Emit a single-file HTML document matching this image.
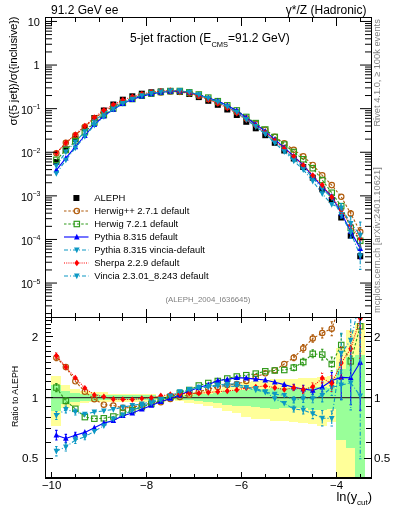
<!DOCTYPE html><html><head><meta charset="utf-8"><style>html,body{margin:0;padding:0;background:#fff;overflow:hidden}svg{display:block;will-change:transform}text{font-family:"Liberation Sans",sans-serif}</style></head><body>
<svg width="393" height="512" viewBox="0 0 393 512">
<defs><clipPath id="cu"><rect x="46" y="18" width="325" height="299"/></clipPath><clipPath id="cl"><rect x="46" y="318" width="325" height="159"/></clipPath></defs>
<g clip-path="url(#cl)" shape-rendering="crispEdges">
<rect x="51.26" y="375.70" width="9.50" height="50.30" fill="#ffff99"/>
<rect x="60.76" y="385.00" width="9.50" height="23.20" fill="#ffff99"/>
<rect x="70.25" y="389.10" width="9.50" height="17.20" fill="#ffff99"/>
<rect x="79.75" y="391.00" width="9.50" height="12.00" fill="#ffff99"/>
<rect x="89.24" y="391.60" width="9.50" height="10.80" fill="#ffff99"/>
<rect x="98.74" y="392.00" width="9.50" height="10.00" fill="#ffff99"/>
<rect x="108.24" y="394.06" width="9.50" height="7.44" fill="#ffff99"/>
<rect x="117.73" y="394.06" width="9.50" height="7.44" fill="#ffff99"/>
<rect x="127.23" y="394.06" width="9.50" height="7.44" fill="#ffff99"/>
<rect x="136.72" y="394.06" width="9.50" height="7.44" fill="#ffff99"/>
<rect x="146.22" y="394.06" width="9.50" height="7.44" fill="#ffff99"/>
<rect x="155.72" y="395.94" width="9.50" height="3.56" fill="#ffff99"/>
<rect x="165.21" y="395.27" width="9.50" height="4.93" fill="#ffff99"/>
<rect x="174.71" y="394.33" width="9.50" height="6.87" fill="#ffff99"/>
<rect x="184.20" y="392.97" width="9.50" height="9.73" fill="#ffff99"/>
<rect x="193.70" y="391.82" width="9.50" height="12.18" fill="#ffff99"/>
<rect x="203.20" y="390.54" width="9.50" height="14.96" fill="#ffff99"/>
<rect x="212.69" y="388.64" width="9.50" height="19.16" fill="#ffff99"/>
<rect x="222.19" y="386.53" width="9.50" height="23.97" fill="#ffff99"/>
<rect x="231.68" y="384.53" width="9.50" height="28.67" fill="#ffff99"/>
<rect x="241.18" y="382.09" width="9.50" height="34.61" fill="#ffff99"/>
<rect x="250.68" y="380.90" width="9.50" height="37.60" fill="#ffff99"/>
<rect x="260.17" y="380.32" width="9.50" height="39.08" fill="#ffff99"/>
<rect x="269.67" y="379.31" width="9.50" height="41.69" fill="#ffff99"/>
<rect x="279.16" y="379.31" width="9.50" height="41.69" fill="#ffff99"/>
<rect x="288.66" y="379.00" width="9.50" height="42.50" fill="#ffff99"/>
<rect x="298.16" y="378.39" width="9.50" height="44.11" fill="#ffff99"/>
<rect x="307.65" y="377.79" width="9.50" height="45.71" fill="#ffff99"/>
<rect x="317.15" y="376.62" width="9.50" height="48.88" fill="#ffff99"/>
<rect x="326.64" y="375.70" width="9.50" height="45.80" fill="#ffff99"/>
<rect x="336.14" y="348.40" width="9.50" height="131.60" fill="#ffff99"/>
<rect x="345.64" y="330.30" width="9.50" height="149.70" fill="#ffff99"/>
<rect x="355.13" y="323.00" width="9.50" height="157.00" fill="#ffff99"/>
<rect x="51.26" y="385.30" width="9.50" height="25.40" fill="#99ff99"/>
<rect x="60.76" y="391.00" width="9.50" height="12.70" fill="#99ff99"/>
<rect x="70.25" y="392.90" width="9.50" height="8.90" fill="#99ff99"/>
<rect x="79.75" y="393.50" width="9.50" height="7.00" fill="#99ff99"/>
<rect x="89.24" y="394.20" width="9.50" height="6.30" fill="#99ff99"/>
<rect x="98.74" y="394.50" width="9.50" height="5.80" fill="#99ff99"/>
<rect x="108.24" y="395.46" width="9.50" height="4.54" fill="#99ff99"/>
<rect x="117.73" y="395.46" width="9.50" height="4.54" fill="#99ff99"/>
<rect x="127.23" y="395.46" width="9.50" height="4.54" fill="#99ff99"/>
<rect x="136.72" y="395.46" width="9.50" height="4.54" fill="#99ff99"/>
<rect x="146.22" y="395.46" width="9.50" height="4.54" fill="#99ff99"/>
<rect x="155.72" y="396.52" width="9.50" height="2.38" fill="#99ff99"/>
<rect x="165.21" y="396.52" width="9.50" height="2.38" fill="#99ff99"/>
<rect x="174.71" y="395.94" width="9.50" height="3.56" fill="#99ff99"/>
<rect x="184.20" y="395.27" width="9.50" height="4.93" fill="#99ff99"/>
<rect x="193.70" y="394.33" width="9.50" height="6.87" fill="#99ff99"/>
<rect x="203.20" y="393.78" width="9.50" height="8.02" fill="#99ff99"/>
<rect x="212.69" y="392.52" width="9.50" height="10.68" fill="#99ff99"/>
<rect x="222.19" y="391.39" width="9.50" height="13.11" fill="#99ff99"/>
<rect x="231.68" y="390.12" width="9.50" height="15.88" fill="#99ff99"/>
<rect x="241.18" y="390.12" width="9.50" height="15.88" fill="#99ff99"/>
<rect x="250.68" y="389.37" width="9.50" height="17.53" fill="#99ff99"/>
<rect x="260.17" y="388.64" width="9.50" height="19.16" fill="#99ff99"/>
<rect x="269.67" y="388.09" width="9.50" height="20.41" fill="#99ff99"/>
<rect x="279.16" y="388.32" width="9.50" height="19.88" fill="#99ff99"/>
<rect x="288.66" y="388.32" width="9.50" height="19.88" fill="#99ff99"/>
<rect x="298.16" y="388.32" width="9.50" height="19.88" fill="#99ff99"/>
<rect x="307.65" y="387.30" width="9.50" height="22.20" fill="#99ff99"/>
<rect x="317.15" y="386.91" width="9.50" height="23.09" fill="#99ff99"/>
<rect x="326.64" y="387.77" width="9.50" height="21.13" fill="#99ff99"/>
<rect x="336.14" y="369.00" width="9.50" height="70.70" fill="#99ff99"/>
<rect x="345.64" y="357.00" width="9.50" height="90.60" fill="#99ff99"/>
<rect x="355.13" y="355.30" width="9.50" height="124.70" fill="#99ff99"/>
</g>
<line x1="46" y1="397.7" x2="371" y2="397.7" stroke="#333" stroke-width="1.3"/>
<g clip-path="url(#cl)">
<path d="M56.36,354.70V360.70M55.16,354.70H57.56M55.16,360.70H57.56M293.76,354.70V360.70M292.56,354.70H294.96M292.56,360.70H294.96M303.25,344.50V352.10M302.05,344.50H304.45M302.05,352.10H304.45M312.75,334.70V342.30M311.55,334.70H313.95M311.55,342.30H313.95M322.25,328.00V338.00M321.05,328.00H323.45M321.05,338.00H323.45M331.74,321.70V335.70M330.54,321.70H332.94M330.54,335.70H332.94M341.24,292.00V312.00M340.04,292.00H342.44M340.04,312.00H342.44M350.73,281.00V309.00M349.53,281.00H351.93M349.53,309.00H351.93M360.23,265.00V305.00M359.03,265.00H361.43M359.03,305.00H361.43" fill="none" stroke="#b05a0a" stroke-width="1.1" stroke-dasharray="2.5,1.8"/>
<path d="M56.36,357.70L65.85,367.10L75.35,381.30L84.85,391.70L94.34,399.20L103.84,404.70L113.33,405.50L122.83,407.90L132.33,407.50L141.82,405.00L151.32,403.00L160.81,402.20L170.31,399.00L179.81,397.00L189.30,394.80L198.80,392.00L208.29,389.00L217.79,387.00L227.29,385.00L236.78,384.00L246.28,381.00L255.77,377.00L265.27,373.30L274.77,370.20L284.26,364.00L293.76,357.70L303.25,348.30L312.75,338.50L322.25,333.00L331.74,328.70L341.24,302.00L350.73,295.00L360.23,285.00" fill="none" stroke="#b05a0a" stroke-width="1.1" stroke-dasharray="2.5,1.8"/>
<circle cx="56.36" cy="357.70" r="2.7" fill="none" stroke="#b05a0a" stroke-width="1.15"/>
<circle cx="65.85" cy="367.10" r="2.7" fill="none" stroke="#b05a0a" stroke-width="1.15"/>
<circle cx="75.35" cy="381.30" r="2.7" fill="none" stroke="#b05a0a" stroke-width="1.15"/>
<circle cx="84.85" cy="391.70" r="2.7" fill="none" stroke="#b05a0a" stroke-width="1.15"/>
<circle cx="94.34" cy="399.20" r="2.7" fill="none" stroke="#b05a0a" stroke-width="1.15"/>
<circle cx="103.84" cy="404.70" r="2.7" fill="none" stroke="#b05a0a" stroke-width="1.15"/>
<circle cx="113.33" cy="405.50" r="2.7" fill="none" stroke="#b05a0a" stroke-width="1.15"/>
<circle cx="122.83" cy="407.90" r="2.7" fill="none" stroke="#b05a0a" stroke-width="1.15"/>
<circle cx="132.33" cy="407.50" r="2.7" fill="none" stroke="#b05a0a" stroke-width="1.15"/>
<circle cx="141.82" cy="405.00" r="2.7" fill="none" stroke="#b05a0a" stroke-width="1.15"/>
<circle cx="151.32" cy="403.00" r="2.7" fill="none" stroke="#b05a0a" stroke-width="1.15"/>
<circle cx="160.81" cy="402.20" r="2.7" fill="none" stroke="#b05a0a" stroke-width="1.15"/>
<circle cx="170.31" cy="399.00" r="2.7" fill="none" stroke="#b05a0a" stroke-width="1.15"/>
<circle cx="179.81" cy="397.00" r="2.7" fill="none" stroke="#b05a0a" stroke-width="1.15"/>
<circle cx="189.30" cy="394.80" r="2.7" fill="none" stroke="#b05a0a" stroke-width="1.15"/>
<circle cx="198.80" cy="392.00" r="2.7" fill="none" stroke="#b05a0a" stroke-width="1.15"/>
<circle cx="208.29" cy="389.00" r="2.7" fill="none" stroke="#b05a0a" stroke-width="1.15"/>
<circle cx="217.79" cy="387.00" r="2.7" fill="none" stroke="#b05a0a" stroke-width="1.15"/>
<circle cx="227.29" cy="385.00" r="2.7" fill="none" stroke="#b05a0a" stroke-width="1.15"/>
<circle cx="236.78" cy="384.00" r="2.7" fill="none" stroke="#b05a0a" stroke-width="1.15"/>
<circle cx="246.28" cy="381.00" r="2.7" fill="none" stroke="#b05a0a" stroke-width="1.15"/>
<circle cx="255.77" cy="377.00" r="2.7" fill="none" stroke="#b05a0a" stroke-width="1.15"/>
<circle cx="265.27" cy="373.30" r="2.7" fill="none" stroke="#b05a0a" stroke-width="1.15"/>
<circle cx="274.77" cy="370.20" r="2.7" fill="none" stroke="#b05a0a" stroke-width="1.15"/>
<circle cx="284.26" cy="364.00" r="2.7" fill="none" stroke="#b05a0a" stroke-width="1.15"/>
<circle cx="293.76" cy="357.70" r="2.7" fill="none" stroke="#b05a0a" stroke-width="1.15"/>
<circle cx="303.25" cy="348.30" r="2.7" fill="none" stroke="#b05a0a" stroke-width="1.15"/>
<circle cx="312.75" cy="338.50" r="2.7" fill="none" stroke="#b05a0a" stroke-width="1.15"/>
<circle cx="322.25" cy="333.00" r="2.7" fill="none" stroke="#b05a0a" stroke-width="1.15"/>
<circle cx="331.74" cy="328.70" r="2.7" fill="none" stroke="#b05a0a" stroke-width="1.15"/>
<circle cx="341.24" cy="302.00" r="2.7" fill="none" stroke="#b05a0a" stroke-width="1.15"/>
<circle cx="350.73" cy="295.00" r="2.7" fill="none" stroke="#b05a0a" stroke-width="1.15"/>
<circle cx="360.23" cy="285.00" r="2.7" fill="none" stroke="#b05a0a" stroke-width="1.15"/>
</g>
<g clip-path="url(#cl)">
<path d="M56.36,383.60V391.60M55.16,383.60H57.56M55.16,391.60H57.56M65.85,397.90V403.90M64.65,397.90H67.05M64.65,403.90H67.05M293.76,364.60V370.60M292.56,364.60H294.96M292.56,370.60H294.96M303.25,358.20V365.80M302.05,358.20H304.45M302.05,365.80H304.45M312.75,349.80V357.80M311.55,349.80H313.95M311.55,357.80H313.95M322.25,349.20V360.00M321.05,349.20H323.45M321.05,360.00H323.45M331.74,357.00V371.00M330.54,357.00H332.94M330.54,371.00H332.94M341.24,334.00V356.00M340.04,334.00H342.44M340.04,356.00H342.44M350.73,346.40V376.40M349.53,346.40H351.93M349.53,376.40H351.93M360.23,301.30V351.30M359.03,301.30H361.43M359.03,351.30H361.43" fill="none" stroke="#2f9a1a" stroke-width="1.1" stroke-dasharray="2.5,1.8"/>
<path d="M56.36,387.60L65.85,400.90L75.35,408.80L84.85,417.10L94.34,418.70L103.84,418.30L113.33,416.50L122.83,412.60L132.33,410.30L141.82,407.10L151.32,403.90L160.81,400.00L170.31,397.00L179.81,393.00L189.30,390.00L198.80,385.50L208.29,383.00L217.79,381.00L227.29,378.50L236.78,376.50L246.28,375.20L255.77,373.60L265.27,371.30L274.77,370.50L284.26,370.00L293.76,367.60L303.25,362.00L312.75,353.80L322.25,354.60L331.74,364.00L341.24,345.00L350.73,361.40L360.23,326.30" fill="none" stroke="#2f9a1a" stroke-width="1.1" stroke-dasharray="2.5,1.8"/>
<rect x="53.66" y="384.90" width="5.4" height="5.4" fill="none" stroke="#2f9a1a" stroke-width="1.15"/>
<rect x="63.15" y="398.20" width="5.4" height="5.4" fill="none" stroke="#2f9a1a" stroke-width="1.15"/>
<rect x="72.65" y="406.10" width="5.4" height="5.4" fill="none" stroke="#2f9a1a" stroke-width="1.15"/>
<rect x="82.15" y="414.40" width="5.4" height="5.4" fill="none" stroke="#2f9a1a" stroke-width="1.15"/>
<rect x="91.64" y="416.00" width="5.4" height="5.4" fill="none" stroke="#2f9a1a" stroke-width="1.15"/>
<rect x="101.14" y="415.60" width="5.4" height="5.4" fill="none" stroke="#2f9a1a" stroke-width="1.15"/>
<rect x="110.63" y="413.80" width="5.4" height="5.4" fill="none" stroke="#2f9a1a" stroke-width="1.15"/>
<rect x="120.13" y="409.90" width="5.4" height="5.4" fill="none" stroke="#2f9a1a" stroke-width="1.15"/>
<rect x="129.63" y="407.60" width="5.4" height="5.4" fill="none" stroke="#2f9a1a" stroke-width="1.15"/>
<rect x="139.12" y="404.40" width="5.4" height="5.4" fill="none" stroke="#2f9a1a" stroke-width="1.15"/>
<rect x="148.62" y="401.20" width="5.4" height="5.4" fill="none" stroke="#2f9a1a" stroke-width="1.15"/>
<rect x="158.11" y="397.30" width="5.4" height="5.4" fill="none" stroke="#2f9a1a" stroke-width="1.15"/>
<rect x="167.61" y="394.30" width="5.4" height="5.4" fill="none" stroke="#2f9a1a" stroke-width="1.15"/>
<rect x="177.11" y="390.30" width="5.4" height="5.4" fill="none" stroke="#2f9a1a" stroke-width="1.15"/>
<rect x="186.60" y="387.30" width="5.4" height="5.4" fill="none" stroke="#2f9a1a" stroke-width="1.15"/>
<rect x="196.10" y="382.80" width="5.4" height="5.4" fill="none" stroke="#2f9a1a" stroke-width="1.15"/>
<rect x="205.59" y="380.30" width="5.4" height="5.4" fill="none" stroke="#2f9a1a" stroke-width="1.15"/>
<rect x="215.09" y="378.30" width="5.4" height="5.4" fill="none" stroke="#2f9a1a" stroke-width="1.15"/>
<rect x="224.59" y="375.80" width="5.4" height="5.4" fill="none" stroke="#2f9a1a" stroke-width="1.15"/>
<rect x="234.08" y="373.80" width="5.4" height="5.4" fill="none" stroke="#2f9a1a" stroke-width="1.15"/>
<rect x="243.58" y="372.50" width="5.4" height="5.4" fill="none" stroke="#2f9a1a" stroke-width="1.15"/>
<rect x="253.07" y="370.90" width="5.4" height="5.4" fill="none" stroke="#2f9a1a" stroke-width="1.15"/>
<rect x="262.57" y="368.60" width="5.4" height="5.4" fill="none" stroke="#2f9a1a" stroke-width="1.15"/>
<rect x="272.07" y="367.80" width="5.4" height="5.4" fill="none" stroke="#2f9a1a" stroke-width="1.15"/>
<rect x="281.56" y="367.30" width="5.4" height="5.4" fill="none" stroke="#2f9a1a" stroke-width="1.15"/>
<rect x="291.06" y="364.90" width="5.4" height="5.4" fill="none" stroke="#2f9a1a" stroke-width="1.15"/>
<rect x="300.55" y="359.30" width="5.4" height="5.4" fill="none" stroke="#2f9a1a" stroke-width="1.15"/>
<rect x="310.05" y="351.10" width="5.4" height="5.4" fill="none" stroke="#2f9a1a" stroke-width="1.15"/>
<rect x="319.55" y="351.90" width="5.4" height="5.4" fill="none" stroke="#2f9a1a" stroke-width="1.15"/>
<rect x="329.04" y="361.30" width="5.4" height="5.4" fill="none" stroke="#2f9a1a" stroke-width="1.15"/>
<rect x="338.54" y="342.30" width="5.4" height="5.4" fill="none" stroke="#2f9a1a" stroke-width="1.15"/>
<rect x="348.03" y="358.70" width="5.4" height="5.4" fill="none" stroke="#2f9a1a" stroke-width="1.15"/>
<rect x="357.53" y="323.60" width="5.4" height="5.4" fill="none" stroke="#2f9a1a" stroke-width="1.15"/>
</g>
<g clip-path="url(#cl)">
<path d="M56.36,430.40V440.00M55.16,430.40H57.56M55.16,440.00H57.56M65.85,434.40V442.40M64.65,434.40H67.05M64.65,442.40H67.05M75.35,432.20V438.20M74.15,432.20H76.55M74.15,438.20H76.55M293.76,384.20V390.20M292.56,384.20H294.96M292.56,390.20H294.96M303.25,385.20V392.80M302.05,385.20H304.45M302.05,392.80H304.45M312.75,386.40V394.40M311.55,386.40H313.95M311.55,394.40H313.95M322.25,382.00V392.00M321.05,382.00H323.45M321.05,392.00H323.45M331.74,372.50V388.50M330.54,372.50H332.94M330.54,388.50H332.94M341.24,355.40V399.40M340.04,355.40H342.44M340.04,399.40H342.44M350.73,350.70V404.70M349.53,350.70H351.93M349.53,404.70H351.93M360.23,314.30V410.30M359.03,314.30H361.43M359.03,410.30H361.43" fill="none" stroke="#0000ff" stroke-width="1.1"/>
<path d="M56.36,435.20L65.85,438.40L75.35,435.20L84.85,432.40L94.34,427.80L103.84,423.10L113.33,420.50L122.83,415.70L132.33,413.00L141.82,409.20L151.32,405.40L160.81,401.50L170.31,398.40L179.81,395.00L189.30,391.00L198.80,387.50L208.29,384.80L217.79,380.50L227.29,379.50L236.78,377.60L246.28,378.10L255.77,379.10L265.27,380.00L274.77,382.20L284.26,384.60L293.76,387.20L303.25,389.00L312.75,390.40L322.25,387.00L331.74,380.50L341.24,377.40L350.73,377.70L360.23,362.30" fill="none" stroke="#0000ff" stroke-width="1.1"/>
<path d="M53.56,437.60L59.16,437.60L56.36,431.90Z" fill="#0000ff"/>
<path d="M63.05,440.80L68.65,440.80L65.85,435.10Z" fill="#0000ff"/>
<path d="M72.55,437.60L78.15,437.60L75.35,431.90Z" fill="#0000ff"/>
<path d="M82.05,434.80L87.65,434.80L84.85,429.10Z" fill="#0000ff"/>
<path d="M91.54,430.20L97.14,430.20L94.34,424.50Z" fill="#0000ff"/>
<path d="M101.04,425.50L106.64,425.50L103.84,419.80Z" fill="#0000ff"/>
<path d="M110.53,422.90L116.13,422.90L113.33,417.20Z" fill="#0000ff"/>
<path d="M120.03,418.10L125.63,418.10L122.83,412.40Z" fill="#0000ff"/>
<path d="M129.53,415.40L135.13,415.40L132.33,409.70Z" fill="#0000ff"/>
<path d="M139.02,411.60L144.62,411.60L141.82,405.90Z" fill="#0000ff"/>
<path d="M148.52,407.80L154.12,407.80L151.32,402.10Z" fill="#0000ff"/>
<path d="M158.01,403.90L163.61,403.90L160.81,398.20Z" fill="#0000ff"/>
<path d="M167.51,400.80L173.11,400.80L170.31,395.10Z" fill="#0000ff"/>
<path d="M177.01,397.40L182.61,397.40L179.81,391.70Z" fill="#0000ff"/>
<path d="M186.50,393.40L192.10,393.40L189.30,387.70Z" fill="#0000ff"/>
<path d="M196.00,389.90L201.60,389.90L198.80,384.20Z" fill="#0000ff"/>
<path d="M205.49,387.20L211.09,387.20L208.29,381.50Z" fill="#0000ff"/>
<path d="M214.99,382.90L220.59,382.90L217.79,377.20Z" fill="#0000ff"/>
<path d="M224.49,381.90L230.09,381.90L227.29,376.20Z" fill="#0000ff"/>
<path d="M233.98,380.00L239.58,380.00L236.78,374.30Z" fill="#0000ff"/>
<path d="M243.48,380.50L249.08,380.50L246.28,374.80Z" fill="#0000ff"/>
<path d="M252.97,381.50L258.57,381.50L255.77,375.80Z" fill="#0000ff"/>
<path d="M262.47,382.40L268.07,382.40L265.27,376.70Z" fill="#0000ff"/>
<path d="M271.97,384.60L277.57,384.60L274.77,378.90Z" fill="#0000ff"/>
<path d="M281.46,387.00L287.06,387.00L284.26,381.30Z" fill="#0000ff"/>
<path d="M290.96,389.60L296.56,389.60L293.76,383.90Z" fill="#0000ff"/>
<path d="M300.45,391.40L306.05,391.40L303.25,385.70Z" fill="#0000ff"/>
<path d="M309.95,392.80L315.55,392.80L312.75,387.10Z" fill="#0000ff"/>
<path d="M319.45,389.40L325.05,389.40L322.25,383.70Z" fill="#0000ff"/>
<path d="M328.94,382.90L334.54,382.90L331.74,377.20Z" fill="#0000ff"/>
<path d="M338.44,379.80L344.04,379.80L341.24,374.10Z" fill="#0000ff"/>
<path d="M347.93,380.10L353.53,380.10L350.73,374.40Z" fill="#0000ff"/>
<path d="M357.43,364.70L363.03,364.70L360.23,359.00Z" fill="#0000ff"/>
</g>
<g clip-path="url(#cl)">
<path d="M56.36,411.50V419.50M55.16,411.50H57.56M55.16,419.50H57.56M65.85,406.00V413.00M64.65,406.00H67.05M64.65,413.00H67.05M75.35,409.00V415.00M74.15,409.00H76.55M74.15,415.00H76.55M293.76,396.90V402.90M292.56,396.90H294.96M292.56,402.90H294.96M303.25,394.90V402.50M302.05,394.90H304.45M302.05,402.50H304.45M312.75,394.70V402.70M311.55,394.70H313.95M311.55,402.70H313.95M322.25,388.70V401.90M321.05,388.70H323.45M321.05,401.90H323.45M331.74,379.50V395.50M330.54,379.50H332.94M330.54,395.50H332.94M341.24,370.00V400.00M340.04,370.00H342.44M340.04,400.00H342.44M350.73,355.90V409.90M349.53,355.90H351.93M349.53,409.90H351.93M360.23,332.80V458.80M359.03,332.80H361.43M359.03,458.80H361.43" fill="none" stroke="#0c98c4" stroke-width="1.1" stroke-dasharray="4,2,1,2"/>
<path d="M56.36,415.50L65.85,409.50L75.35,412.00L84.85,414.20L94.34,412.00L103.84,410.80L113.33,409.40L122.83,407.10L132.33,405.40L141.82,404.00L151.32,401.50L160.81,399.60L170.31,396.00L179.81,392.50L189.30,390.00L198.80,388.00L208.29,387.00L217.79,386.00L227.29,386.00L236.78,386.50L246.28,388.00L255.77,390.00L265.27,392.00L274.77,394.20L284.26,395.30L293.76,399.90L303.25,398.70L312.75,398.70L322.25,395.30L331.74,387.50L341.24,385.00L350.73,382.90L360.23,395.80" fill="none" stroke="#0c98c4" stroke-width="1.1" stroke-dasharray="4,2,1,2"/>
<path d="M53.56,413.10L59.16,413.10L56.36,418.80Z" fill="#0c98c4"/>
<path d="M63.05,407.10L68.65,407.10L65.85,412.80Z" fill="#0c98c4"/>
<path d="M72.55,409.60L78.15,409.60L75.35,415.30Z" fill="#0c98c4"/>
<path d="M82.05,411.80L87.65,411.80L84.85,417.50Z" fill="#0c98c4"/>
<path d="M91.54,409.60L97.14,409.60L94.34,415.30Z" fill="#0c98c4"/>
<path d="M101.04,408.40L106.64,408.40L103.84,414.10Z" fill="#0c98c4"/>
<path d="M110.53,407.00L116.13,407.00L113.33,412.70Z" fill="#0c98c4"/>
<path d="M120.03,404.70L125.63,404.70L122.83,410.40Z" fill="#0c98c4"/>
<path d="M129.53,403.00L135.13,403.00L132.33,408.70Z" fill="#0c98c4"/>
<path d="M139.02,401.60L144.62,401.60L141.82,407.30Z" fill="#0c98c4"/>
<path d="M148.52,399.10L154.12,399.10L151.32,404.80Z" fill="#0c98c4"/>
<path d="M158.01,397.20L163.61,397.20L160.81,402.90Z" fill="#0c98c4"/>
<path d="M167.51,393.60L173.11,393.60L170.31,399.30Z" fill="#0c98c4"/>
<path d="M177.01,390.10L182.61,390.10L179.81,395.80Z" fill="#0c98c4"/>
<path d="M186.50,387.60L192.10,387.60L189.30,393.30Z" fill="#0c98c4"/>
<path d="M196.00,385.60L201.60,385.60L198.80,391.30Z" fill="#0c98c4"/>
<path d="M205.49,384.60L211.09,384.60L208.29,390.30Z" fill="#0c98c4"/>
<path d="M214.99,383.60L220.59,383.60L217.79,389.30Z" fill="#0c98c4"/>
<path d="M224.49,383.60L230.09,383.60L227.29,389.30Z" fill="#0c98c4"/>
<path d="M233.98,384.10L239.58,384.10L236.78,389.80Z" fill="#0c98c4"/>
<path d="M243.48,385.60L249.08,385.60L246.28,391.30Z" fill="#0c98c4"/>
<path d="M252.97,387.60L258.57,387.60L255.77,393.30Z" fill="#0c98c4"/>
<path d="M262.47,389.60L268.07,389.60L265.27,395.30Z" fill="#0c98c4"/>
<path d="M271.97,391.80L277.57,391.80L274.77,397.50Z" fill="#0c98c4"/>
<path d="M281.46,392.90L287.06,392.90L284.26,398.60Z" fill="#0c98c4"/>
<path d="M290.96,397.50L296.56,397.50L293.76,403.20Z" fill="#0c98c4"/>
<path d="M300.45,396.30L306.05,396.30L303.25,402.00Z" fill="#0c98c4"/>
<path d="M309.95,396.30L315.55,396.30L312.75,402.00Z" fill="#0c98c4"/>
<path d="M319.45,392.90L325.05,392.90L322.25,398.60Z" fill="#0c98c4"/>
<path d="M328.94,385.10L334.54,385.10L331.74,390.80Z" fill="#0c98c4"/>
<path d="M338.44,382.60L344.04,382.60L341.24,388.30Z" fill="#0c98c4"/>
<path d="M347.93,380.50L353.53,380.50L350.73,386.20Z" fill="#0c98c4"/>
<path d="M357.43,393.40L363.03,393.40L360.23,399.10Z" fill="#0c98c4"/>
</g>
<g clip-path="url(#cl)">
<path d="M56.36,352.80V358.80M55.16,352.80H57.56M55.16,358.80H57.56M293.76,384.70V390.70M292.56,384.70H294.96M292.56,390.70H294.96M303.25,385.80V393.40M302.05,385.80H304.45M302.05,393.40H304.45M312.75,382.70V390.70M311.55,382.70H313.95M311.55,390.70H313.95M322.25,373.10V383.10M321.05,373.10H323.45M321.05,383.10H323.45M331.74,375.50V391.50M330.54,375.50H332.94M330.54,391.50H332.94M341.24,347.00V379.00M340.04,347.00H342.44M340.04,379.00H342.44M350.73,331.70V365.70M349.53,331.70H351.93M349.53,365.70H351.93M360.23,278.40V358.40M359.03,278.40H361.43M359.03,358.40H361.43" fill="none" stroke="#ff0000" stroke-width="1.1" stroke-dasharray="1,1.2"/>
<path d="M56.36,355.80L65.85,367.10L75.35,377.90L84.85,388.10L94.34,394.90L103.84,396.80L113.33,399.20L122.83,399.40L132.33,399.60L141.82,398.40L151.32,397.70L160.81,395.80L170.31,394.50L179.81,394.00L189.30,393.20L198.80,393.20L208.29,392.50L217.79,391.70L227.29,391.00L236.78,389.90L246.28,387.90L255.77,387.00L265.27,386.00L274.77,387.70L284.26,389.60L293.76,387.70L303.25,389.60L312.75,386.70L322.25,378.10L331.74,383.50L341.24,363.00L350.73,348.70L360.23,318.40" fill="none" stroke="#ff0000" stroke-width="1.1" stroke-dasharray="1,1.2"/>
<path d="M56.36,352.60L58.86,355.80L56.36,359.00L53.86,355.80Z" fill="#ff0000"/>
<path d="M65.85,363.90L68.35,367.10L65.85,370.30L63.35,367.10Z" fill="#ff0000"/>
<path d="M75.35,374.70L77.85,377.90L75.35,381.10L72.85,377.90Z" fill="#ff0000"/>
<path d="M84.85,384.90L87.35,388.10L84.85,391.30L82.35,388.10Z" fill="#ff0000"/>
<path d="M94.34,391.70L96.84,394.90L94.34,398.10L91.84,394.90Z" fill="#ff0000"/>
<path d="M103.84,393.60L106.34,396.80L103.84,400.00L101.34,396.80Z" fill="#ff0000"/>
<path d="M113.33,396.00L115.83,399.20L113.33,402.40L110.83,399.20Z" fill="#ff0000"/>
<path d="M122.83,396.20L125.33,399.40L122.83,402.60L120.33,399.40Z" fill="#ff0000"/>
<path d="M132.33,396.40L134.83,399.60L132.33,402.80L129.83,399.60Z" fill="#ff0000"/>
<path d="M141.82,395.20L144.32,398.40L141.82,401.60L139.32,398.40Z" fill="#ff0000"/>
<path d="M151.32,394.50L153.82,397.70L151.32,400.90L148.82,397.70Z" fill="#ff0000"/>
<path d="M160.81,392.60L163.31,395.80L160.81,399.00L158.31,395.80Z" fill="#ff0000"/>
<path d="M170.31,391.30L172.81,394.50L170.31,397.70L167.81,394.50Z" fill="#ff0000"/>
<path d="M179.81,390.80L182.31,394.00L179.81,397.20L177.31,394.00Z" fill="#ff0000"/>
<path d="M189.30,390.00L191.80,393.20L189.30,396.40L186.80,393.20Z" fill="#ff0000"/>
<path d="M198.80,390.00L201.30,393.20L198.80,396.40L196.30,393.20Z" fill="#ff0000"/>
<path d="M208.29,389.30L210.79,392.50L208.29,395.70L205.79,392.50Z" fill="#ff0000"/>
<path d="M217.79,388.50L220.29,391.70L217.79,394.90L215.29,391.70Z" fill="#ff0000"/>
<path d="M227.29,387.80L229.79,391.00L227.29,394.20L224.79,391.00Z" fill="#ff0000"/>
<path d="M236.78,386.70L239.28,389.90L236.78,393.10L234.28,389.90Z" fill="#ff0000"/>
<path d="M246.28,384.70L248.78,387.90L246.28,391.10L243.78,387.90Z" fill="#ff0000"/>
<path d="M255.77,383.80L258.27,387.00L255.77,390.20L253.27,387.00Z" fill="#ff0000"/>
<path d="M265.27,382.80L267.77,386.00L265.27,389.20L262.77,386.00Z" fill="#ff0000"/>
<path d="M274.77,384.50L277.27,387.70L274.77,390.90L272.27,387.70Z" fill="#ff0000"/>
<path d="M284.26,386.40L286.76,389.60L284.26,392.80L281.76,389.60Z" fill="#ff0000"/>
<path d="M293.76,384.50L296.26,387.70L293.76,390.90L291.26,387.70Z" fill="#ff0000"/>
<path d="M303.25,386.40L305.75,389.60L303.25,392.80L300.75,389.60Z" fill="#ff0000"/>
<path d="M312.75,383.50L315.25,386.70L312.75,389.90L310.25,386.70Z" fill="#ff0000"/>
<path d="M322.25,374.90L324.75,378.10L322.25,381.30L319.75,378.10Z" fill="#ff0000"/>
<path d="M331.74,380.30L334.24,383.50L331.74,386.70L329.24,383.50Z" fill="#ff0000"/>
<path d="M341.24,359.80L343.74,363.00L341.24,366.20L338.74,363.00Z" fill="#ff0000"/>
<path d="M350.73,345.50L353.23,348.70L350.73,351.90L348.23,348.70Z" fill="#ff0000"/>
<path d="M360.23,315.20L362.73,318.40L360.23,321.60L357.73,318.40Z" fill="#ff0000"/>
</g>
<g clip-path="url(#cl)">
<path d="M56.36,446.50V455.90M55.16,446.50H57.56M55.16,455.90H57.56M65.85,443.00V451.00M64.65,443.00H67.05M64.65,451.00H67.05M75.35,436.50V443.50M74.15,436.50H76.55M74.15,443.50H76.55M84.85,433.80V439.80M83.65,433.80H86.05M83.65,439.80H86.05M293.76,406.00V412.00M292.56,406.00H294.96M292.56,412.00H294.96M303.25,406.40V414.00M302.05,406.40H304.45M302.05,414.00H304.45M312.75,408.60V418.60M311.55,408.60H313.95M311.55,418.60H313.95M322.25,410.50V425.90M321.05,410.50H323.45M321.05,425.90H323.45M331.74,411.00V426.00M330.54,411.00H332.94M330.54,426.00H332.94M341.24,333.20V373.20M340.04,333.20H342.44M340.04,373.20H342.44M350.73,310.20V370.20M349.53,310.20H351.93M349.53,370.20H351.93M360.23,240.00V360.00M359.03,240.00H361.43M359.03,360.00H361.43" fill="none" stroke="#0c98c4" stroke-width="1.1" stroke-dasharray="4,2,1,2"/>
<path d="M56.36,451.20L65.85,447.00L75.35,440.00L84.85,436.80L94.34,431.30L103.84,425.80L113.33,418.90L122.83,415.00L132.33,410.40L141.82,406.30L151.32,403.10L160.81,399.20L170.31,395.80L179.81,391.70L189.30,389.40L198.80,387.10L208.29,386.40L217.79,384.80L227.29,384.10L236.78,384.00L246.28,387.30L255.77,388.40L265.27,391.90L274.77,398.70L284.26,403.30L293.76,409.00L303.25,410.20L312.75,413.60L322.25,418.20L331.74,418.50L341.24,353.20L350.73,340.20L360.23,300.00" fill="none" stroke="#0c98c4" stroke-width="1.1" stroke-dasharray="4,2,1,2"/>
<path d="M53.56,448.80L59.16,448.80L56.36,454.50Z" fill="#0c98c4"/>
<path d="M63.05,444.60L68.65,444.60L65.85,450.30Z" fill="#0c98c4"/>
<path d="M72.55,437.60L78.15,437.60L75.35,443.30Z" fill="#0c98c4"/>
<path d="M82.05,434.40L87.65,434.40L84.85,440.10Z" fill="#0c98c4"/>
<path d="M91.54,428.90L97.14,428.90L94.34,434.60Z" fill="#0c98c4"/>
<path d="M101.04,423.40L106.64,423.40L103.84,429.10Z" fill="#0c98c4"/>
<path d="M110.53,416.50L116.13,416.50L113.33,422.20Z" fill="#0c98c4"/>
<path d="M120.03,412.60L125.63,412.60L122.83,418.30Z" fill="#0c98c4"/>
<path d="M129.53,408.00L135.13,408.00L132.33,413.70Z" fill="#0c98c4"/>
<path d="M139.02,403.90L144.62,403.90L141.82,409.60Z" fill="#0c98c4"/>
<path d="M148.52,400.70L154.12,400.70L151.32,406.40Z" fill="#0c98c4"/>
<path d="M158.01,396.80L163.61,396.80L160.81,402.50Z" fill="#0c98c4"/>
<path d="M167.51,393.40L173.11,393.40L170.31,399.10Z" fill="#0c98c4"/>
<path d="M177.01,389.30L182.61,389.30L179.81,395.00Z" fill="#0c98c4"/>
<path d="M186.50,387.00L192.10,387.00L189.30,392.70Z" fill="#0c98c4"/>
<path d="M196.00,384.70L201.60,384.70L198.80,390.40Z" fill="#0c98c4"/>
<path d="M205.49,384.00L211.09,384.00L208.29,389.70Z" fill="#0c98c4"/>
<path d="M214.99,382.40L220.59,382.40L217.79,388.10Z" fill="#0c98c4"/>
<path d="M224.49,381.70L230.09,381.70L227.29,387.40Z" fill="#0c98c4"/>
<path d="M233.98,381.60L239.58,381.60L236.78,387.30Z" fill="#0c98c4"/>
<path d="M243.48,384.90L249.08,384.90L246.28,390.60Z" fill="#0c98c4"/>
<path d="M252.97,386.00L258.57,386.00L255.77,391.70Z" fill="#0c98c4"/>
<path d="M262.47,389.50L268.07,389.50L265.27,395.20Z" fill="#0c98c4"/>
<path d="M271.97,396.30L277.57,396.30L274.77,402.00Z" fill="#0c98c4"/>
<path d="M281.46,400.90L287.06,400.90L284.26,406.60Z" fill="#0c98c4"/>
<path d="M290.96,406.60L296.56,406.60L293.76,412.30Z" fill="#0c98c4"/>
<path d="M300.45,407.80L306.05,407.80L303.25,413.50Z" fill="#0c98c4"/>
<path d="M309.95,411.20L315.55,411.20L312.75,416.90Z" fill="#0c98c4"/>
<path d="M319.45,415.80L325.05,415.80L322.25,421.50Z" fill="#0c98c4"/>
<path d="M328.94,416.10L334.54,416.10L331.74,421.80Z" fill="#0c98c4"/>
<path d="M338.44,350.80L344.04,350.80L341.24,356.50Z" fill="#0c98c4"/>
<path d="M347.93,337.80L353.53,337.80L350.73,343.50Z" fill="#0c98c4"/>
<path d="M357.43,297.60L363.03,297.60L360.23,303.30Z" fill="#0c98c4"/>
</g>
<g clip-path="url(#cu)">
<rect x="53.36" y="159.00" width="6" height="6" fill="#000"/>
<rect x="62.85" y="146.40" width="6" height="6" fill="#000"/>
<rect x="72.35" y="135.80" width="6" height="6" fill="#000"/>
<rect x="81.85" y="125.00" width="6" height="6" fill="#000"/>
<rect x="91.34" y="115.00" width="6" height="6" fill="#000"/>
<rect x="100.84" y="107.50" width="6" height="6" fill="#000"/>
<rect x="110.33" y="101.50" width="6" height="6" fill="#000"/>
<rect x="119.83" y="96.70" width="6" height="6" fill="#000"/>
<rect x="129.33" y="93.30" width="6" height="6" fill="#000"/>
<rect x="138.82" y="90.70" width="6" height="6" fill="#000"/>
<rect x="148.32" y="89.30" width="6" height="6" fill="#000"/>
<rect x="157.81" y="88.50" width="6" height="6" fill="#000"/>
<rect x="167.31" y="88.20" width="6" height="6" fill="#000"/>
<rect x="176.81" y="89.00" width="6" height="6" fill="#000"/>
<rect x="186.30" y="91.00" width="6" height="6" fill="#000"/>
<rect x="195.80" y="94.10" width="6" height="6" fill="#000"/>
<rect x="205.29" y="97.80" width="6" height="6" fill="#000"/>
<rect x="214.79" y="101.80" width="6" height="6" fill="#000"/>
<rect x="224.29" y="106.50" width="6" height="6" fill="#000"/>
<rect x="233.78" y="112.00" width="6" height="6" fill="#000"/>
<rect x="243.28" y="118.80" width="6" height="6" fill="#000"/>
<rect x="252.77" y="125.30" width="6" height="6" fill="#000"/>
<rect x="262.27" y="132.20" width="6" height="6" fill="#000"/>
<rect x="271.77" y="139.80" width="6" height="6" fill="#000"/>
<rect x="281.26" y="147.50" width="6" height="6" fill="#000"/>
<rect x="290.76" y="155.50" width="6" height="6" fill="#000"/>
<rect x="300.25" y="164.00" width="6" height="6" fill="#000"/>
<rect x="309.75" y="174.70" width="6" height="6" fill="#000"/>
<rect x="319.25" y="186.30" width="6" height="6" fill="#000"/>
<rect x="328.74" y="197.00" width="6" height="6" fill="#000"/>
<rect x="338.24" y="214.50" width="6" height="6" fill="#000"/>
<rect x="347.73" y="232.70" width="6" height="6" fill="#000"/>
<rect x="357.23" y="253.20" width="6" height="6" fill="#000"/>
</g>
<g clip-path="url(#cu)">
<path d="M350.73,210.51V216.55M349.53,210.51H351.93M349.53,216.55H351.93M360.23,227.55V236.19M359.03,227.55H361.43M359.03,236.19H361.43" fill="none" stroke="#b05a0a" stroke-width="1.1" stroke-dasharray="2.5,1.8"/>
<path d="M56.36,153.37L65.85,142.79L75.35,135.26L84.85,126.70L94.34,118.32L103.84,112.01L113.33,106.18L122.83,101.90L132.33,98.42L141.82,95.28L151.32,93.44L160.81,92.47L170.31,91.48L179.81,91.85L189.30,93.37L198.80,95.87L208.29,98.92L217.79,102.49L227.29,106.76L236.78,112.04L246.28,118.19L255.77,123.83L265.27,129.93L274.77,136.86L284.26,143.23L293.76,149.87L303.25,156.34L312.75,164.92L322.25,175.33L331.74,185.10L341.24,196.84L350.73,213.53L360.23,231.87" fill="none" stroke="#b05a0a" stroke-width="1.1" stroke-dasharray="2.5,1.8"/>
<circle cx="56.36" cy="153.37" r="2.7" fill="none" stroke="#b05a0a" stroke-width="1.15"/>
<circle cx="65.85" cy="142.79" r="2.7" fill="none" stroke="#b05a0a" stroke-width="1.15"/>
<circle cx="75.35" cy="135.26" r="2.7" fill="none" stroke="#b05a0a" stroke-width="1.15"/>
<circle cx="84.85" cy="126.70" r="2.7" fill="none" stroke="#b05a0a" stroke-width="1.15"/>
<circle cx="94.34" cy="118.32" r="2.7" fill="none" stroke="#b05a0a" stroke-width="1.15"/>
<circle cx="103.84" cy="112.01" r="2.7" fill="none" stroke="#b05a0a" stroke-width="1.15"/>
<circle cx="113.33" cy="106.18" r="2.7" fill="none" stroke="#b05a0a" stroke-width="1.15"/>
<circle cx="122.83" cy="101.90" r="2.7" fill="none" stroke="#b05a0a" stroke-width="1.15"/>
<circle cx="132.33" cy="98.42" r="2.7" fill="none" stroke="#b05a0a" stroke-width="1.15"/>
<circle cx="141.82" cy="95.28" r="2.7" fill="none" stroke="#b05a0a" stroke-width="1.15"/>
<circle cx="151.32" cy="93.44" r="2.7" fill="none" stroke="#b05a0a" stroke-width="1.15"/>
<circle cx="160.81" cy="92.47" r="2.7" fill="none" stroke="#b05a0a" stroke-width="1.15"/>
<circle cx="170.31" cy="91.48" r="2.7" fill="none" stroke="#b05a0a" stroke-width="1.15"/>
<circle cx="179.81" cy="91.85" r="2.7" fill="none" stroke="#b05a0a" stroke-width="1.15"/>
<circle cx="189.30" cy="93.37" r="2.7" fill="none" stroke="#b05a0a" stroke-width="1.15"/>
<circle cx="198.80" cy="95.87" r="2.7" fill="none" stroke="#b05a0a" stroke-width="1.15"/>
<circle cx="208.29" cy="98.92" r="2.7" fill="none" stroke="#b05a0a" stroke-width="1.15"/>
<circle cx="217.79" cy="102.49" r="2.7" fill="none" stroke="#b05a0a" stroke-width="1.15"/>
<circle cx="227.29" cy="106.76" r="2.7" fill="none" stroke="#b05a0a" stroke-width="1.15"/>
<circle cx="236.78" cy="112.04" r="2.7" fill="none" stroke="#b05a0a" stroke-width="1.15"/>
<circle cx="246.28" cy="118.19" r="2.7" fill="none" stroke="#b05a0a" stroke-width="1.15"/>
<circle cx="255.77" cy="123.83" r="2.7" fill="none" stroke="#b05a0a" stroke-width="1.15"/>
<circle cx="265.27" cy="129.93" r="2.7" fill="none" stroke="#b05a0a" stroke-width="1.15"/>
<circle cx="274.77" cy="136.86" r="2.7" fill="none" stroke="#b05a0a" stroke-width="1.15"/>
<circle cx="284.26" cy="143.23" r="2.7" fill="none" stroke="#b05a0a" stroke-width="1.15"/>
<circle cx="293.76" cy="149.87" r="2.7" fill="none" stroke="#b05a0a" stroke-width="1.15"/>
<circle cx="303.25" cy="156.34" r="2.7" fill="none" stroke="#b05a0a" stroke-width="1.15"/>
<circle cx="312.75" cy="164.92" r="2.7" fill="none" stroke="#b05a0a" stroke-width="1.15"/>
<circle cx="322.25" cy="175.33" r="2.7" fill="none" stroke="#b05a0a" stroke-width="1.15"/>
<circle cx="331.74" cy="185.10" r="2.7" fill="none" stroke="#b05a0a" stroke-width="1.15"/>
<circle cx="341.24" cy="196.84" r="2.7" fill="none" stroke="#b05a0a" stroke-width="1.15"/>
<circle cx="350.73" cy="213.53" r="2.7" fill="none" stroke="#b05a0a" stroke-width="1.15"/>
<circle cx="360.23" cy="231.87" r="2.7" fill="none" stroke="#b05a0a" stroke-width="1.15"/>
</g>
<g clip-path="url(#cu)">
<path d="M350.73,224.63V231.10M349.53,224.63H351.93M349.53,231.10H351.93M360.23,235.39V246.18M359.03,235.39H361.43M359.03,246.18H361.43" fill="none" stroke="#2f9a1a" stroke-width="1.1" stroke-dasharray="2.5,1.8"/>
<path d="M56.36,159.82L65.85,150.09L75.35,141.20L84.85,132.19L94.34,122.53L103.84,114.95L113.33,108.56L122.83,102.92L132.33,99.02L141.82,95.73L151.32,93.64L160.81,92.00L170.31,91.05L179.81,90.99L189.30,92.34L198.80,94.47L208.29,97.63L217.79,101.19L227.29,105.36L236.78,110.42L246.28,116.94L255.77,123.10L265.27,129.50L274.77,136.93L284.26,144.52L293.76,152.00L303.25,159.29L312.75,168.22L322.25,180.00L331.74,192.73L341.24,206.12L350.73,227.86L360.23,240.79" fill="none" stroke="#2f9a1a" stroke-width="1.1" stroke-dasharray="2.5,1.8"/>
<rect x="53.66" y="157.12" width="5.4" height="5.4" fill="none" stroke="#2f9a1a" stroke-width="1.15"/>
<rect x="63.15" y="147.39" width="5.4" height="5.4" fill="none" stroke="#2f9a1a" stroke-width="1.15"/>
<rect x="72.65" y="138.50" width="5.4" height="5.4" fill="none" stroke="#2f9a1a" stroke-width="1.15"/>
<rect x="82.15" y="129.49" width="5.4" height="5.4" fill="none" stroke="#2f9a1a" stroke-width="1.15"/>
<rect x="91.64" y="119.83" width="5.4" height="5.4" fill="none" stroke="#2f9a1a" stroke-width="1.15"/>
<rect x="101.14" y="112.25" width="5.4" height="5.4" fill="none" stroke="#2f9a1a" stroke-width="1.15"/>
<rect x="110.63" y="105.86" width="5.4" height="5.4" fill="none" stroke="#2f9a1a" stroke-width="1.15"/>
<rect x="120.13" y="100.22" width="5.4" height="5.4" fill="none" stroke="#2f9a1a" stroke-width="1.15"/>
<rect x="129.63" y="96.32" width="5.4" height="5.4" fill="none" stroke="#2f9a1a" stroke-width="1.15"/>
<rect x="139.12" y="93.03" width="5.4" height="5.4" fill="none" stroke="#2f9a1a" stroke-width="1.15"/>
<rect x="148.62" y="90.94" width="5.4" height="5.4" fill="none" stroke="#2f9a1a" stroke-width="1.15"/>
<rect x="158.11" y="89.30" width="5.4" height="5.4" fill="none" stroke="#2f9a1a" stroke-width="1.15"/>
<rect x="167.61" y="88.35" width="5.4" height="5.4" fill="none" stroke="#2f9a1a" stroke-width="1.15"/>
<rect x="177.11" y="88.29" width="5.4" height="5.4" fill="none" stroke="#2f9a1a" stroke-width="1.15"/>
<rect x="186.60" y="89.64" width="5.4" height="5.4" fill="none" stroke="#2f9a1a" stroke-width="1.15"/>
<rect x="196.10" y="91.77" width="5.4" height="5.4" fill="none" stroke="#2f9a1a" stroke-width="1.15"/>
<rect x="205.59" y="94.93" width="5.4" height="5.4" fill="none" stroke="#2f9a1a" stroke-width="1.15"/>
<rect x="215.09" y="98.49" width="5.4" height="5.4" fill="none" stroke="#2f9a1a" stroke-width="1.15"/>
<rect x="224.59" y="102.66" width="5.4" height="5.4" fill="none" stroke="#2f9a1a" stroke-width="1.15"/>
<rect x="234.08" y="107.72" width="5.4" height="5.4" fill="none" stroke="#2f9a1a" stroke-width="1.15"/>
<rect x="243.58" y="114.24" width="5.4" height="5.4" fill="none" stroke="#2f9a1a" stroke-width="1.15"/>
<rect x="253.07" y="120.40" width="5.4" height="5.4" fill="none" stroke="#2f9a1a" stroke-width="1.15"/>
<rect x="262.57" y="126.80" width="5.4" height="5.4" fill="none" stroke="#2f9a1a" stroke-width="1.15"/>
<rect x="272.07" y="134.23" width="5.4" height="5.4" fill="none" stroke="#2f9a1a" stroke-width="1.15"/>
<rect x="281.56" y="141.82" width="5.4" height="5.4" fill="none" stroke="#2f9a1a" stroke-width="1.15"/>
<rect x="291.06" y="149.30" width="5.4" height="5.4" fill="none" stroke="#2f9a1a" stroke-width="1.15"/>
<rect x="300.55" y="156.59" width="5.4" height="5.4" fill="none" stroke="#2f9a1a" stroke-width="1.15"/>
<rect x="310.05" y="165.52" width="5.4" height="5.4" fill="none" stroke="#2f9a1a" stroke-width="1.15"/>
<rect x="319.55" y="177.30" width="5.4" height="5.4" fill="none" stroke="#2f9a1a" stroke-width="1.15"/>
<rect x="329.04" y="190.03" width="5.4" height="5.4" fill="none" stroke="#2f9a1a" stroke-width="1.15"/>
<rect x="338.54" y="203.42" width="5.4" height="5.4" fill="none" stroke="#2f9a1a" stroke-width="1.15"/>
<rect x="348.03" y="225.16" width="5.4" height="5.4" fill="none" stroke="#2f9a1a" stroke-width="1.15"/>
<rect x="357.53" y="238.09" width="5.4" height="5.4" fill="none" stroke="#2f9a1a" stroke-width="1.15"/>
</g>
<g clip-path="url(#cu)">
<path d="M341.24,208.37V217.87M340.04,208.37H342.44M340.04,217.87H342.44M350.73,225.55V237.21M349.53,225.55H351.93M349.53,237.21H351.93M360.23,238.19V258.92M359.03,238.19H361.43M359.03,258.92H361.43" fill="none" stroke="#0000ff" stroke-width="1.1"/>
<path d="M56.36,170.10L65.85,158.19L75.35,146.90L84.85,135.49L94.34,124.50L103.84,115.98L113.33,109.42L122.83,103.59L132.33,99.60L141.82,96.18L151.32,93.96L160.81,92.32L170.31,91.35L179.81,91.42L189.30,92.55L198.80,94.90L208.29,98.02L217.79,101.09L227.29,105.57L236.78,110.66L246.28,117.57L255.77,124.28L265.27,131.38L274.77,139.45L284.26,147.67L293.76,156.23L303.25,165.12L312.75,176.12L322.25,186.99L331.74,196.29L341.24,213.12L350.73,231.38L360.23,248.56" fill="none" stroke="#0000ff" stroke-width="1.1"/>
<path d="M53.56,172.50L59.16,172.50L56.36,166.80Z" fill="#0000ff"/>
<path d="M63.05,160.59L68.65,160.59L65.85,154.89Z" fill="#0000ff"/>
<path d="M72.55,149.30L78.15,149.30L75.35,143.60Z" fill="#0000ff"/>
<path d="M82.05,137.89L87.65,137.89L84.85,132.19Z" fill="#0000ff"/>
<path d="M91.54,126.90L97.14,126.90L94.34,121.20Z" fill="#0000ff"/>
<path d="M101.04,118.38L106.64,118.38L103.84,112.68Z" fill="#0000ff"/>
<path d="M110.53,111.82L116.13,111.82L113.33,106.12Z" fill="#0000ff"/>
<path d="M120.03,105.99L125.63,105.99L122.83,100.29Z" fill="#0000ff"/>
<path d="M129.53,102.00L135.13,102.00L132.33,96.30Z" fill="#0000ff"/>
<path d="M139.02,98.58L144.62,98.58L141.82,92.88Z" fill="#0000ff"/>
<path d="M148.52,96.36L154.12,96.36L151.32,90.66Z" fill="#0000ff"/>
<path d="M158.01,94.72L163.61,94.72L160.81,89.02Z" fill="#0000ff"/>
<path d="M167.51,93.75L173.11,93.75L170.31,88.05Z" fill="#0000ff"/>
<path d="M177.01,93.82L182.61,93.82L179.81,88.12Z" fill="#0000ff"/>
<path d="M186.50,94.95L192.10,94.95L189.30,89.25Z" fill="#0000ff"/>
<path d="M196.00,97.30L201.60,97.30L198.80,91.60Z" fill="#0000ff"/>
<path d="M205.49,100.42L211.09,100.42L208.29,94.72Z" fill="#0000ff"/>
<path d="M214.99,103.49L220.59,103.49L217.79,97.79Z" fill="#0000ff"/>
<path d="M224.49,107.97L230.09,107.97L227.29,102.27Z" fill="#0000ff"/>
<path d="M233.98,113.06L239.58,113.06L236.78,107.36Z" fill="#0000ff"/>
<path d="M243.48,119.97L249.08,119.97L246.28,114.27Z" fill="#0000ff"/>
<path d="M252.97,126.68L258.57,126.68L255.77,120.98Z" fill="#0000ff"/>
<path d="M262.47,133.78L268.07,133.78L265.27,128.08Z" fill="#0000ff"/>
<path d="M271.97,141.85L277.57,141.85L274.77,136.15Z" fill="#0000ff"/>
<path d="M281.46,150.07L287.06,150.07L284.26,144.37Z" fill="#0000ff"/>
<path d="M290.96,158.63L296.56,158.63L293.76,152.93Z" fill="#0000ff"/>
<path d="M300.45,167.52L306.05,167.52L303.25,161.82Z" fill="#0000ff"/>
<path d="M309.95,178.52L315.55,178.52L312.75,172.82Z" fill="#0000ff"/>
<path d="M319.45,189.39L325.05,189.39L322.25,183.69Z" fill="#0000ff"/>
<path d="M328.94,198.69L334.54,198.69L331.74,192.99Z" fill="#0000ff"/>
<path d="M338.44,215.52L344.04,215.52L341.24,209.82Z" fill="#0000ff"/>
<path d="M347.93,233.78L353.53,233.78L350.73,228.08Z" fill="#0000ff"/>
<path d="M357.43,250.96L363.03,250.96L360.23,245.26Z" fill="#0000ff"/>
</g>
<g clip-path="url(#cu)">
<path d="M341.24,211.52V218.00M340.04,211.52H342.44M340.04,218.00H342.44M350.73,226.68V238.33M349.53,226.68H351.93M349.53,238.33H351.93M360.23,242.19V269.39M359.03,242.19H361.43M359.03,269.39H361.43" fill="none" stroke="#0c98c4" stroke-width="1.1" stroke-dasharray="4,2,1,2"/>
<path d="M56.36,165.84L65.85,151.95L75.35,141.89L84.85,131.56L94.34,121.09L103.84,113.33L113.33,107.03L122.83,101.73L132.33,97.96L141.82,95.06L151.32,93.12L160.81,91.91L170.31,90.83L179.81,90.88L189.30,92.34L198.80,95.01L208.29,98.49L217.79,102.27L227.29,106.97L236.78,112.58L246.28,119.71L255.77,126.64L265.27,133.97L274.77,142.04L284.26,149.98L293.76,158.97L303.25,167.22L312.75,177.92L322.25,188.78L331.74,197.80L341.24,214.76L350.73,232.51L360.23,255.79" fill="none" stroke="#0c98c4" stroke-width="1.1" stroke-dasharray="4,2,1,2"/>
<path d="M53.56,163.44L59.16,163.44L56.36,169.14Z" fill="#0c98c4"/>
<path d="M63.05,149.55L68.65,149.55L65.85,155.25Z" fill="#0c98c4"/>
<path d="M72.55,139.49L78.15,139.49L75.35,145.19Z" fill="#0c98c4"/>
<path d="M82.05,129.16L87.65,129.16L84.85,134.86Z" fill="#0c98c4"/>
<path d="M91.54,118.69L97.14,118.69L94.34,124.39Z" fill="#0c98c4"/>
<path d="M101.04,110.93L106.64,110.93L103.84,116.63Z" fill="#0c98c4"/>
<path d="M110.53,104.63L116.13,104.63L113.33,110.33Z" fill="#0c98c4"/>
<path d="M120.03,99.33L125.63,99.33L122.83,105.03Z" fill="#0c98c4"/>
<path d="M129.53,95.56L135.13,95.56L132.33,101.26Z" fill="#0c98c4"/>
<path d="M139.02,92.66L144.62,92.66L141.82,98.36Z" fill="#0c98c4"/>
<path d="M148.52,90.72L154.12,90.72L151.32,96.42Z" fill="#0c98c4"/>
<path d="M158.01,89.51L163.61,89.51L160.81,95.21Z" fill="#0c98c4"/>
<path d="M167.51,88.43L173.11,88.43L170.31,94.13Z" fill="#0c98c4"/>
<path d="M177.01,88.48L182.61,88.48L179.81,94.18Z" fill="#0c98c4"/>
<path d="M186.50,89.94L192.10,89.94L189.30,95.64Z" fill="#0c98c4"/>
<path d="M196.00,92.61L201.60,92.61L198.80,98.31Z" fill="#0c98c4"/>
<path d="M205.49,96.09L211.09,96.09L208.29,101.79Z" fill="#0c98c4"/>
<path d="M214.99,99.87L220.59,99.87L217.79,105.57Z" fill="#0c98c4"/>
<path d="M224.49,104.57L230.09,104.57L227.29,110.27Z" fill="#0c98c4"/>
<path d="M233.98,110.18L239.58,110.18L236.78,115.88Z" fill="#0c98c4"/>
<path d="M243.48,117.31L249.08,117.31L246.28,123.01Z" fill="#0c98c4"/>
<path d="M252.97,124.24L258.57,124.24L255.77,129.94Z" fill="#0c98c4"/>
<path d="M262.47,131.57L268.07,131.57L265.27,137.27Z" fill="#0c98c4"/>
<path d="M271.97,139.64L277.57,139.64L274.77,145.34Z" fill="#0c98c4"/>
<path d="M281.46,147.58L287.06,147.58L284.26,153.28Z" fill="#0c98c4"/>
<path d="M290.96,156.57L296.56,156.57L293.76,162.27Z" fill="#0c98c4"/>
<path d="M300.45,164.82L306.05,164.82L303.25,170.52Z" fill="#0c98c4"/>
<path d="M309.95,175.52L315.55,175.52L312.75,181.22Z" fill="#0c98c4"/>
<path d="M319.45,186.38L325.05,186.38L322.25,192.08Z" fill="#0c98c4"/>
<path d="M328.94,195.40L334.54,195.40L331.74,201.10Z" fill="#0c98c4"/>
<path d="M338.44,212.36L344.04,212.36L341.24,218.06Z" fill="#0c98c4"/>
<path d="M347.93,230.11L353.53,230.11L350.73,235.81Z" fill="#0c98c4"/>
<path d="M357.43,253.39L363.03,253.39L360.23,259.09Z" fill="#0c98c4"/>
</g>
<g clip-path="url(#cu)">
<path d="M341.24,206.55V213.46M340.04,206.55H342.44M340.04,213.46H342.44M350.73,221.45V228.79M349.53,221.45H351.93M349.53,228.79H351.93M360.23,230.45V247.72M359.03,230.45H361.43M359.03,247.72H361.43" fill="none" stroke="#ff0000" stroke-width="1.1" stroke-dasharray="1,1.2"/>
<path d="M56.36,152.96L65.85,142.79L75.35,134.53L84.85,125.93L94.34,117.40L103.84,110.31L113.33,104.82L122.83,100.07L132.33,96.71L141.82,93.85L151.32,92.30L160.81,91.09L170.31,90.51L179.81,91.20L189.30,93.03L198.80,96.13L208.29,99.68L217.79,103.50L227.29,108.05L236.78,113.32L246.28,119.68L255.77,125.99L265.27,132.67L274.77,140.64L284.26,148.75L293.76,156.34L303.25,165.25L312.75,175.33L322.25,185.07L331.74,196.93L341.24,210.01L350.73,225.12L360.23,239.08" fill="none" stroke="#ff0000" stroke-width="1.1" stroke-dasharray="1,1.2"/>
<path d="M56.36,149.76L58.86,152.96L56.36,156.16L53.86,152.96Z" fill="#ff0000"/>
<path d="M65.85,139.59L68.35,142.79L65.85,145.99L63.35,142.79Z" fill="#ff0000"/>
<path d="M75.35,131.33L77.85,134.53L75.35,137.73L72.85,134.53Z" fill="#ff0000"/>
<path d="M84.85,122.73L87.35,125.93L84.85,129.13L82.35,125.93Z" fill="#ff0000"/>
<path d="M94.34,114.20L96.84,117.40L94.34,120.60L91.84,117.40Z" fill="#ff0000"/>
<path d="M103.84,107.11L106.34,110.31L103.84,113.51L101.34,110.31Z" fill="#ff0000"/>
<path d="M113.33,101.62L115.83,104.82L113.33,108.02L110.83,104.82Z" fill="#ff0000"/>
<path d="M122.83,96.87L125.33,100.07L122.83,103.27L120.33,100.07Z" fill="#ff0000"/>
<path d="M132.33,93.51L134.83,96.71L132.33,99.91L129.83,96.71Z" fill="#ff0000"/>
<path d="M141.82,90.65L144.32,93.85L141.82,97.05L139.32,93.85Z" fill="#ff0000"/>
<path d="M151.32,89.10L153.82,92.30L151.32,95.50L148.82,92.30Z" fill="#ff0000"/>
<path d="M160.81,87.89L163.31,91.09L160.81,94.29L158.31,91.09Z" fill="#ff0000"/>
<path d="M170.31,87.31L172.81,90.51L170.31,93.71L167.81,90.51Z" fill="#ff0000"/>
<path d="M179.81,88.00L182.31,91.20L179.81,94.40L177.31,91.20Z" fill="#ff0000"/>
<path d="M189.30,89.83L191.80,93.03L189.30,96.23L186.80,93.03Z" fill="#ff0000"/>
<path d="M198.80,92.93L201.30,96.13L198.80,99.33L196.30,96.13Z" fill="#ff0000"/>
<path d="M208.29,96.48L210.79,99.68L208.29,102.88L205.79,99.68Z" fill="#ff0000"/>
<path d="M217.79,100.30L220.29,103.50L217.79,106.70L215.29,103.50Z" fill="#ff0000"/>
<path d="M227.29,104.85L229.79,108.05L227.29,111.25L224.79,108.05Z" fill="#ff0000"/>
<path d="M236.78,110.12L239.28,113.32L236.78,116.52L234.28,113.32Z" fill="#ff0000"/>
<path d="M246.28,116.48L248.78,119.68L246.28,122.88L243.78,119.68Z" fill="#ff0000"/>
<path d="M255.77,122.79L258.27,125.99L255.77,129.19L253.27,125.99Z" fill="#ff0000"/>
<path d="M265.27,129.47L267.77,132.67L265.27,135.87L262.77,132.67Z" fill="#ff0000"/>
<path d="M274.77,137.44L277.27,140.64L274.77,143.84L272.27,140.64Z" fill="#ff0000"/>
<path d="M284.26,145.55L286.76,148.75L284.26,151.95L281.76,148.75Z" fill="#ff0000"/>
<path d="M293.76,153.14L296.26,156.34L293.76,159.54L291.26,156.34Z" fill="#ff0000"/>
<path d="M303.25,162.05L305.75,165.25L303.25,168.45L300.75,165.25Z" fill="#ff0000"/>
<path d="M312.75,172.13L315.25,175.33L312.75,178.53L310.25,175.33Z" fill="#ff0000"/>
<path d="M322.25,181.87L324.75,185.07L322.25,188.27L319.75,185.07Z" fill="#ff0000"/>
<path d="M331.74,193.73L334.24,196.93L331.74,200.13L329.24,196.93Z" fill="#ff0000"/>
<path d="M341.24,206.81L343.74,210.01L341.24,213.21L338.74,210.01Z" fill="#ff0000"/>
<path d="M350.73,221.92L353.23,225.12L350.73,228.32L348.23,225.12Z" fill="#ff0000"/>
<path d="M360.23,235.88L362.73,239.08L360.23,242.28L357.73,239.08Z" fill="#ff0000"/>
</g>
<g clip-path="url(#cu)">
<path d="M341.24,203.58V212.21M340.04,203.58H342.44M340.04,212.21H342.44M350.73,216.81V229.76M349.53,216.81H351.93M349.53,229.76H351.93M360.23,222.16V248.06M359.03,222.16H361.43M359.03,248.06H361.43" fill="none" stroke="#0c98c4" stroke-width="1.1" stroke-dasharray="4,2,1,2"/>
<path d="M56.36,173.55L65.85,160.04L75.35,147.93L84.85,136.44L94.34,125.25L103.84,116.57L113.33,109.08L122.83,103.43L132.33,99.04L141.82,95.56L151.32,93.47L160.81,91.82L170.31,90.79L179.81,90.70L189.30,92.21L198.80,94.81L208.29,98.36L217.79,102.02L227.29,106.56L236.78,112.04L246.28,119.55L255.77,126.29L265.27,133.95L274.77,143.02L284.26,151.71L293.76,160.94L303.25,169.70L312.75,181.13L322.25,193.73L331.74,204.49L341.24,207.89L350.73,223.29L360.23,235.11" fill="none" stroke="#0c98c4" stroke-width="1.1" stroke-dasharray="4,2,1,2"/>
<path d="M53.56,171.15L59.16,171.15L56.36,176.85Z" fill="#0c98c4"/>
<path d="M63.05,157.64L68.65,157.64L65.85,163.34Z" fill="#0c98c4"/>
<path d="M72.55,145.53L78.15,145.53L75.35,151.23Z" fill="#0c98c4"/>
<path d="M82.05,134.04L87.65,134.04L84.85,139.74Z" fill="#0c98c4"/>
<path d="M91.54,122.85L97.14,122.85L94.34,128.55Z" fill="#0c98c4"/>
<path d="M101.04,114.17L106.64,114.17L103.84,119.87Z" fill="#0c98c4"/>
<path d="M110.53,106.68L116.13,106.68L113.33,112.38Z" fill="#0c98c4"/>
<path d="M120.03,101.03L125.63,101.03L122.83,106.73Z" fill="#0c98c4"/>
<path d="M129.53,96.64L135.13,96.64L132.33,102.34Z" fill="#0c98c4"/>
<path d="M139.02,93.16L144.62,93.16L141.82,98.86Z" fill="#0c98c4"/>
<path d="M148.52,91.07L154.12,91.07L151.32,96.77Z" fill="#0c98c4"/>
<path d="M158.01,89.42L163.61,89.42L160.81,95.12Z" fill="#0c98c4"/>
<path d="M167.51,88.39L173.11,88.39L170.31,94.09Z" fill="#0c98c4"/>
<path d="M177.01,88.30L182.61,88.30L179.81,94.00Z" fill="#0c98c4"/>
<path d="M186.50,89.81L192.10,89.81L189.30,95.51Z" fill="#0c98c4"/>
<path d="M196.00,92.41L201.60,92.41L198.80,98.11Z" fill="#0c98c4"/>
<path d="M205.49,95.96L211.09,95.96L208.29,101.66Z" fill="#0c98c4"/>
<path d="M214.99,99.62L220.59,99.62L217.79,105.32Z" fill="#0c98c4"/>
<path d="M224.49,104.16L230.09,104.16L227.29,109.86Z" fill="#0c98c4"/>
<path d="M233.98,109.64L239.58,109.64L236.78,115.34Z" fill="#0c98c4"/>
<path d="M243.48,117.15L249.08,117.15L246.28,122.85Z" fill="#0c98c4"/>
<path d="M252.97,123.89L258.57,123.89L255.77,129.59Z" fill="#0c98c4"/>
<path d="M262.47,131.55L268.07,131.55L265.27,137.25Z" fill="#0c98c4"/>
<path d="M271.97,140.62L277.57,140.62L274.77,146.32Z" fill="#0c98c4"/>
<path d="M281.46,149.31L287.06,149.31L284.26,155.01Z" fill="#0c98c4"/>
<path d="M290.96,158.54L296.56,158.54L293.76,164.24Z" fill="#0c98c4"/>
<path d="M300.45,167.30L306.05,167.30L303.25,173.00Z" fill="#0c98c4"/>
<path d="M309.95,178.73L315.55,178.73L312.75,184.43Z" fill="#0c98c4"/>
<path d="M319.45,191.33L325.05,191.33L322.25,197.03Z" fill="#0c98c4"/>
<path d="M328.94,202.09L334.54,202.09L331.74,207.79Z" fill="#0c98c4"/>
<path d="M338.44,205.49L344.04,205.49L341.24,211.19Z" fill="#0c98c4"/>
<path d="M347.93,220.89L353.53,220.89L350.73,226.59Z" fill="#0c98c4"/>
<path d="M357.43,232.71L363.03,232.71L360.23,238.41Z" fill="#0c98c4"/>
</g>
<g shape-rendering="crispEdges" fill="#000">
<rect x="45" y="17" width="327" height="1"/>
<rect x="45" y="17" width="1" height="462"/>
<rect x="371" y="17" width="1" height="462"/>
<rect x="45" y="317" width="327" height="1"/>
<rect x="45" y="477" width="327" height="2"/>
</g>
<path d="M51.50,18V26M51.50,317V309M51.50,318V323M51.50,477V472M75.50,18V22M75.50,317V313M75.50,318V321M75.50,477V474M99.50,18V22M99.50,317V313M99.50,318V321M99.50,477V474M122.50,18V22M122.50,317V313M122.50,318V321M122.50,477V474M146.50,18V26M146.50,317V309M146.50,318V323M146.50,477V472M170.50,18V22M170.50,317V313M170.50,318V321M170.50,477V474M194.50,18V22M194.50,317V313M194.50,318V321M194.50,477V474M217.50,18V22M217.50,317V313M217.50,318V321M217.50,477V474M241.50,18V26M241.50,317V309M241.50,318V323M241.50,477V472M265.50,18V22M265.50,317V313M265.50,318V321M265.50,477V474M289.50,18V22M289.50,317V313M289.50,318V321M289.50,477V474M312.50,18V22M312.50,317V313M312.50,318V321M312.50,477V474M336.50,18V26M336.50,317V309M336.50,318V323M336.50,477V472M360.50,18V22M360.50,317V313M360.50,318V321M360.50,477V474M46,313.54H52M371,313.54H365M46,305.86H52M371,305.86H365M46,300.41H52M371,300.41H365M46,296.18H52M371,296.18H365M46,292.73H52M371,292.73H365M46,289.81H52M371,289.81H365M46,287.29H52M371,287.29H365M46,285.06H52M371,285.06H365M46,283.06H57M371,283.06H360M46,269.94H52M371,269.94H365M46,262.26H52M371,262.26H365M46,256.81H52M371,256.81H365M46,252.58H52M371,252.58H365M46,249.13H52M371,249.13H365M46,246.21H52M371,246.21H365M46,243.69H52M371,243.69H365M46,241.46H52M371,241.46H365M46,239.46H57M371,239.46H360M46,226.34H52M371,226.34H365M46,218.66H52M371,218.66H365M46,213.21H52M371,213.21H365M46,208.98H52M371,208.98H365M46,205.53H52M371,205.53H365M46,202.61H52M371,202.61H365M46,200.09H52M371,200.09H365M46,197.86H52M371,197.86H365M46,195.86H57M371,195.86H360M46,182.74H52M371,182.74H365M46,175.06H52M371,175.06H365M46,169.61H52M371,169.61H365M46,165.38H52M371,165.38H365M46,161.93H52M371,161.93H365M46,159.01H52M371,159.01H365M46,156.49H52M371,156.49H365M46,154.26H52M371,154.26H365M46,152.26H57M371,152.26H360M46,139.14H52M371,139.14H365M46,131.46H52M371,131.46H365M46,126.01H52M371,126.01H365M46,121.78H52M371,121.78H365M46,118.33H52M371,118.33H365M46,115.41H52M371,115.41H365M46,112.89H52M371,112.89H365M46,110.66H52M371,110.66H365M46,108.66H57M371,108.66H360M46,95.54H52M371,95.54H365M46,87.86H52M371,87.86H365M46,82.41H52M371,82.41H365M46,78.18H52M371,78.18H365M46,74.73H52M371,74.73H365M46,71.81H52M371,71.81H365M46,69.29H52M371,69.29H365M46,67.06H52M371,67.06H365M46,65.06H57M371,65.06H360M46,51.94H52M371,51.94H365M46,44.26H52M371,44.26H365M46,38.81H52M371,38.81H365M46,34.58H52M371,34.58H365M46,31.13H52M371,31.13H365M46,28.21H52M371,28.21H365M46,25.69H52M371,25.69H365M46,23.46H52M371,23.46H365M46,21.46H57M371,21.46H360M46,458.50H53M371,458.50H364M46,442.50H51M371,442.50H366M46,428.50H51M371,428.50H366M46,417.50H51M371,417.50H366M46,406.50H51M371,406.50H366M46,397.50H53M371,397.50H364M46,389.50H51M371,389.50H366M46,381.50H51M371,381.50H366M46,374.50H51M371,374.50H366M46,368.50H51M371,368.50H366M46,362.50H51M371,362.50H366M46,356.50H51M371,356.50H366M46,351.50H51M371,351.50H366M46,346.50H51M371,346.50H366M46,341.50H51M371,341.50H366M46,336.50H53M371,336.50H364M46,332.50H51M371,332.50H366M46,328.50H51M371,328.50H366M46,324.50H51M371,324.50H366M46,320.50H51M371,320.50H366" stroke="#000" stroke-width="1" fill="none"/>
<text x="51" y="14" font-size="12" text-anchor="start" fill="#000">91.2 GeV ee</text>
<text x="366.5" y="14" font-size="12" text-anchor="end" fill="#000">γ*/Z (Hadronic)</text>
<text x="130" y="42.2" font-size="12">5-jet fraction (E<tspan font-size="7.5" dy="4.5">CMS</tspan><tspan dy="-4.5">=91.2 GeV)</tspan></text>
<text x="40" y="26" font-size="11" text-anchor="end" fill="#000">10</text>
<text x="39.6" y="69" font-size="11" text-anchor="end" fill="#000">1</text>
<text x="40" y="113.67" font-size="11" text-anchor="end" letter-spacing="-0.3">10<tspan font-size="7" dy="-4.5">−1</tspan></text>
<text x="40" y="157.30" font-size="11" text-anchor="end" letter-spacing="-0.3">10<tspan font-size="7" dy="-4.5">−2</tspan></text>
<text x="40" y="200.90" font-size="11" text-anchor="end" letter-spacing="-0.3">10<tspan font-size="7" dy="-4.5">−3</tspan></text>
<text x="40" y="244.50" font-size="11" text-anchor="end" letter-spacing="-0.3">10<tspan font-size="7" dy="-4.5">−4</tspan></text>
<text x="40" y="288.10" font-size="11" text-anchor="end" letter-spacing="-0.3">10<tspan font-size="7" dy="-4.5">−5</tspan></text>
<text x="38.2" y="341.3" font-size="11.7" text-anchor="end" fill="#000">2</text>
<text x="38.2" y="402" font-size="11.7" text-anchor="end" fill="#000">1</text>
<text x="38.2" y="462.2" font-size="11.7" text-anchor="end" fill="#000">0.5</text>
<text x="374" y="341.3" font-size="11.7" text-anchor="start" fill="#000">2</text>
<text x="374" y="402" font-size="11.7" text-anchor="start" fill="#000">1</text>
<text x="374" y="462.2" font-size="11.7" text-anchor="start" fill="#000">0.5</text>
<text x="51.66" y="489" font-size="11.5" text-anchor="middle" fill="#000">−10</text>
<text x="146.62" y="489" font-size="11.5" text-anchor="middle" fill="#000">−8</text>
<text x="241.58" y="489" font-size="11.5" text-anchor="middle" fill="#000">−6</text>
<text x="336.54" y="489" font-size="11.5" text-anchor="middle" fill="#000">−4</text>
<text x="372" y="501" font-size="12.8" text-anchor="end">ln(y<tspan font-size="8" dy="4">cut</tspan><tspan dy="-4">)</tspan></text>
<text transform="translate(16.6,125.5) rotate(-90)" font-size="11.5" letter-spacing="-0.2">σ({5 jet})/σ({inclusive})</text>
<text transform="translate(18.4,427) rotate(-90)" font-size="8.8">Ratio to ALEPH</text>
<text transform="translate(380.3,126.6) rotate(-90)" font-size="9.3" fill="#808080">Rivet 4.1.0, ≥ 100k events</text>
<text transform="translate(380.3,313) rotate(-90)" font-size="9.3" fill="#808080">mcplots.cern.ch [arXiv:2401.10621]</text>
<text x="165.4" y="302" font-size="7.8" text-anchor="start" fill="#808080">(ALEPH_2004_I636645)</text>
<text x="94.3" y="201.3" font-size="9.45" text-anchor="start" fill="#000">ALEPH</text>
<rect x="73.40" y="195.00" width="6" height="6" fill="#000"/>
<text x="94.3" y="214.3" font-size="9.45" text-anchor="start" fill="#000">Herwig++ 2.7.1 default</text>
<line x1="64" y1="211" x2="88.5" y2="211" stroke="#b05a0a" stroke-width="1.1" stroke-dasharray="2.5,1.8"/>
<circle cx="76.80" cy="211.00" r="2.7" fill="none" stroke="#b05a0a" stroke-width="1.15"/>
<text x="94.3" y="227.3" font-size="9.45" text-anchor="start" fill="#000">Herwig 7.2.1 default</text>
<line x1="64" y1="224" x2="88.5" y2="224" stroke="#2f9a1a" stroke-width="1.1" stroke-dasharray="2.5,1.8"/>
<rect x="74.10" y="221.30" width="5.4" height="5.4" fill="none" stroke="#2f9a1a" stroke-width="1.15"/>
<text x="94.3" y="240.3" font-size="9.45" text-anchor="start" fill="#000">Pythia 8.315 default</text>
<line x1="64" y1="237" x2="88.5" y2="237" stroke="#0000ff" stroke-width="1.1"/>
<path d="M74.00,239.40L79.60,239.40L76.80,233.70Z" fill="#0000ff"/>
<text x="94.3" y="253.3" font-size="9.45" text-anchor="start" fill="#000">Pythia 8.315 vincia-default</text>
<line x1="64" y1="250" x2="88.5" y2="250" stroke="#0c98c4" stroke-width="1.1" stroke-dasharray="4,2,1,2"/>
<path d="M74.00,247.60L79.60,247.60L76.80,253.30Z" fill="#0c98c4"/>
<text x="94.3" y="266.3" font-size="9.45" text-anchor="start" fill="#000">Sherpa 2.2.9 default</text>
<line x1="64" y1="263" x2="88.5" y2="263" stroke="#ff0000" stroke-width="1.1" stroke-dasharray="1,1.2"/>
<path d="M76.80,259.80L79.30,263.00L76.80,266.20L74.30,263.00Z" fill="#ff0000"/>
<text x="94.3" y="279.3" font-size="9.45" text-anchor="start" fill="#000">Vincia 2.3.01_8.243 default</text>
<line x1="64" y1="276" x2="88.5" y2="276" stroke="#0c98c4" stroke-width="1.1" stroke-dasharray="4,2,1,2"/>
<path d="M74.00,273.60L79.60,273.60L76.80,279.30Z" fill="#0c98c4"/>
</svg></body></html>
